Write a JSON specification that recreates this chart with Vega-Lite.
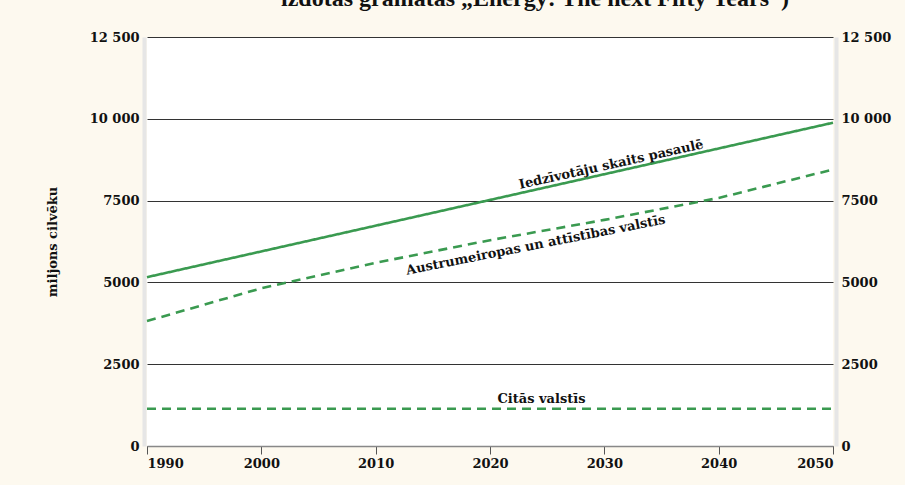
{
  "$schema": "https://vega.github.io/schema/vega-lite/v6.json",
  "width": 686,
  "height": 409,
  "autosize": {"type": "none"},
  "padding": {"left": 147, "top": 37, "right": 72, "bottom": 39},
  "background": "#fdf9ef",
  "title": {
    "text": "izdotās grāmatas „Energy: The next Fifty Years”)",
    "font": "Liberation Serif",
    "fontSize": 24,
    "fontWeight": "bold",
    "color": "#111",
    "anchor": "middle",
    "frame": "group",
    "offset": 20,
    "dx": 45
  },
  "config": {
    "view": {"fill": "white", "stroke": null},
    "axis": {
      "labelFont": "DejaVu Serif",
      "labelFontSize": 13,
      "labelFontWeight": "bold",
      "labelColor": "#111",
      "titleFont": "DejaVu Serif",
      "titleFontSize": 13,
      "titleFontWeight": "bold",
      "titleColor": "#111"
    }
  },
  "datasets": {
    "series": [
      {"year": 1990, "value": 5160, "series": "world"},
      {"year": 2050, "value": 9880, "series": "world"},
      {"year": 1990, "value": 3820, "series": "developing"},
      {"year": 2000, "value": 4820, "series": "developing"},
      {"year": 2010, "value": 5600, "series": "developing"},
      {"year": 2020, "value": 6290, "series": "developing"},
      {"year": 2030, "value": 6910, "series": "developing"},
      {"year": 2040, "value": 7580, "series": "developing"},
      {"year": 2050, "value": 8450, "series": "developing"},
      {"year": 1990, "value": 1140, "series": "other"},
      {"year": 2050, "value": 1140, "series": "other"}
    ],
    "labels": [
      {"year": 2030.6, "value": 8600, "label": "Iedzīvotāju skaits pasaulē", "key": "world"},
      {"year": 2024.0, "value": 6140, "label": "Austrumeiropas un attīstības valstīs", "key": "developing"},
      {"year": 2024.5, "value": 1440, "label": "Citās valstīs", "key": "other"}
    ]
  },
  "layer": [
    {
      "data": {"name": "series"},
      "mark": {"type": "line", "color": "#3a9a50", "strokeWidth": 2.6},
      "encoding": {
        "x": {
          "field": "year", "type": "quantitative",
          "scale": {"domain": [1990, 2050], "nice": false, "zero": false},
          "axis": {
            "title": null, "values": [1990, 2000, 2010, 2020, 2030, 2040, 2050],
            "format": "d", "grid": false, "domainColor": "#888", "domainWidth": 1.5,
            "tickColor": "#555", "tickSize": 8, "labelPadding": 3
          }
        },
        "y": {
          "field": "value", "type": "quantitative",
          "scale": {"domain": [0, 12500], "nice": false},
          "axis": {
            "title": "miljons cilvēku", "titlePadding": 30,
            "values": [0, 2500, 5000, 7500, 10000, 12500],
            "labelExpr": "datum.value >= 10000 ? replace(format(datum.value, ','), ',', ' ') : format(datum.value, 'd')",
            "grid": true, "gridColor": "#333", "gridWidth": 1,
            "domainColor": "#e6e6e6", "domainWidth": 4, "offset": 3,
            "ticks": false, "labelPadding": 5
          }
        },
        "detail": {"field": "series"},
        "strokeDash": {
          "field": "series", "type": "nominal",
          "scale": {"domain": ["world", "developing", "other"], "range": [[1, 0], [9, 6], [9, 6]]},
          "legend": null
        }
      }
    },
    {
      "data": {"name": "series"},
      "mark": {"type": "line", "opacity": 0},
      "encoding": {
        "x": {"field": "year", "type": "quantitative"},
        "y": {
          "field": "value", "type": "quantitative",
          "axis": {
            "orient": "right", "title": null,
            "values": [0, 2500, 5000, 7500, 10000, 12500],
            "labelExpr": "datum.value >= 10000 ? replace(format(datum.value, ','), ',', ' ') : format(datum.value, 'd')",
            "grid": false, "domainColor": "#e6e6e6", "domainWidth": 4, "offset": 3,
            "ticks": false, "labelPadding": 5
          }
        },
        "detail": {"field": "series"}
      }
    },
    {
      "data": {"name": "labels"},
      "transform": [{"filter": "datum.key == 'world'"}],
      "mark": {"type": "text", "angle": 347.5, "font": "DejaVu Serif", "fontSize": 13, "fontWeight": "bold", "color": "#111", "baseline": "middle"},
      "encoding": {
        "x": {"field": "year", "type": "quantitative"},
        "y": {"field": "value", "type": "quantitative", "axis": null},
        "text": {"field": "label"}
      }
    },
    {
      "data": {"name": "labels"},
      "transform": [{"filter": "datum.key == 'developing'"}],
      "mark": {"type": "text", "angle": 348.8, "font": "DejaVu Serif", "fontSize": 13, "fontWeight": "bold", "color": "#111", "baseline": "middle"},
      "encoding": {
        "x": {"field": "year", "type": "quantitative"},
        "y": {"field": "value", "type": "quantitative", "axis": null},
        "text": {"field": "label"}
      }
    },
    {
      "data": {"name": "labels"},
      "transform": [{"filter": "datum.key == 'other'"}],
      "mark": {"type": "text", "font": "DejaVu Serif", "fontSize": 13, "fontWeight": "bold", "color": "#111", "baseline": "middle"},
      "encoding": {
        "x": {"field": "year", "type": "quantitative"},
        "y": {"field": "value", "type": "quantitative", "axis": null},
        "text": {"field": "label"}
      }
    }
  ],
  "resolve": {"axis": {"y": "independent"}}
}
